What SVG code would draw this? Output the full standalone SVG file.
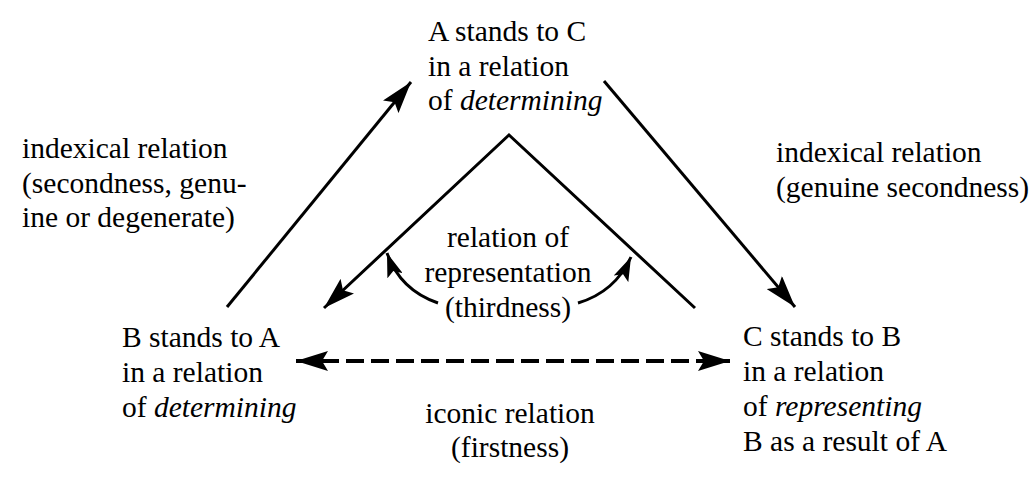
<svg xmlns="http://www.w3.org/2000/svg" width="1033" height="482" viewBox="0 0 1033 482" font-family="'Liberation Serif', 'Times New Roman', 'DejaVu Serif', serif">
<style>
text{font-family:'Liberation Serif','Times New Roman','DejaVu Serif',serif;font-size:29.5px;fill:#000}
.c{text-anchor:middle}
.i{font-style:italic}
.ln{fill:none;stroke:#000;stroke-width:3}
.big{marker-end:url(#ah)}
.sm{marker-end:url(#as)}
.dash{stroke-width:4;stroke-dasharray:18 7;marker-end:url(#ah);marker-start:url(#ahs)}
</style>
<defs>
<marker id="ah" markerUnits="userSpaceOnUse" markerWidth="34" markerHeight="20" refX="32" refY="10" orient="auto"><path d="M0,0 L32,10 L0,20 L6,10 z" fill="#000"/></marker>
<marker id="ahs" markerUnits="userSpaceOnUse" markerWidth="34" markerHeight="20" refX="32" refY="10" orient="auto-start-reverse"><path d="M0,0 L32,10 L0,20 L6,10 z" fill="#000"/></marker>
<marker id="as" markerUnits="userSpaceOnUse" markerWidth="26" markerHeight="16" refX="24" refY="8" orient="auto"><path d="M0,0 L24,8 L0,16 L5,8 z" fill="#000"/></marker>
</defs>
<rect width="1033" height="482" fill="#fff"/>
<g id="connectors">
<line class="ln big" x1="227" y1="307" x2="411" y2="82"/>
<line class="ln big" x1="604" y1="81" x2="795" y2="307"/>
<polyline class="ln big" points="695,308 509,135 324,308"/>
<path class="ln sm" d="M438,303 Q400,290 387,253"/>
<path class="ln sm" d="M578,303 Q615,292 631,257"/>
<line class="ln dash" x1="296" y1="361" x2="730" y2="361"/>
</g>
<g id="node-A">
<text x="428" y="41">A stands to C</text>
<text x="428" y="76">in a relation</text>
<text x="428" y="110">of <tspan class="i">determining</tspan></text>
</g>
<g id="node-B">
<text x="122" y="347">B stands to A</text>
<text x="122" y="382">in a relation</text>
<text x="122" y="417">of <tspan class="i">determining</tspan></text>
</g>
<g id="node-C">
<text x="743" y="346">C stands to B</text>
<text x="743" y="381">in a relation</text>
<text x="743" y="416">of <tspan class="i">representing</tspan></text>
<text x="743" y="451">B as a result of A</text>
</g>
<g id="label-indexical-left">
<text x="22" y="158">indexical relation</text>
<text x="22" y="193">(secondness, genu-</text>
<text x="22" y="227">ine or degenerate)</text>
</g>
<g id="label-indexical-right">
<text x="776" y="162">indexical relation</text>
<text x="776" y="197">(genuine secondness)</text>
</g>
<g id="label-representation">
<text class="c" x="508" y="247">relation of</text>
<text class="c" x="508" y="282">representation</text>
<text class="c" x="508" y="317">(thirdness)</text>
</g>
<g id="label-iconic">
<text class="c" x="510" y="423">iconic relation</text>
<text class="c" x="510" y="457">(firstness)</text>
</g>
</svg>
